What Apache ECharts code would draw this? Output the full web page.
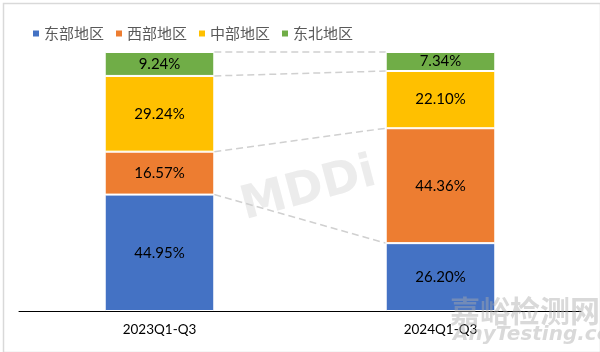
<!DOCTYPE html>
<html><head><meta charset="utf-8">
<script src="https://cdn.jsdelivr.net/npm/echarts@6/dist/echarts.min.js"></script>
<style>html,body{margin:0;padding:0;background:#fff}#c{width:600px;height:352px}</style>
</head><body><div id="c"></div>
<script>
const categories = ['2023Q1-Q3', '2024Q1-Q3'];
const seriesNames = ['东部地区', '西部地区', '中部地区', '东北地区'];
const east = [44.95, 26.20];
const west = [16.57, 44.36];
const central = [29.24, 22.10];
const northeast = [9.24, 7.34];
const colors = ['#4472C4', '#ED7D31', '#FFC000', '#70AD47'];

const allSeries = [east, west, central, northeast];
// cumulative boundaries between stacked segments (for the connecting dashed lines)
const boundaries = [];
for (let k = 1; k <= allSeries.length; k++) {
  const l = allSeries.slice(0, k).reduce((s, a) => s + a[0], 0);
  const r = allSeries.slice(0, k).reduce((s, a) => s + a[1], 0);
  boundaries.push([0, l, r]);
}
const BAR_RATIO = 0.39;

const chart = echarts.init(document.getElementById('c'), null, {renderer: 'canvas'});
const barSeries = seriesNames.map((name, i) => ({
  name, type: 'bar', stack: 'total', barWidth: (BAR_RATIO * 100) + '%',
  data: allSeries[i],
  itemStyle: {color: colors[i], borderColor: '#fff', borderWidth: 1},
  label: {show: true, position: 'inside', formatter: p => p.value.toFixed(2) + '%',
    color: '#000', fontSize: 15, fontFamily: 'Lato, "Open Sans", sans-serif'}
}));

chart.setOption({
  animation: false,
  color: colors,
  legend: {
    left: 26, top: 21, itemWidth: 8, itemHeight: 8, itemGap: 10, icon: 'rect',
    textStyle: {fontSize: 15, color: '#595959', fontFamily: '"Noto Sans CJK SC", sans-serif', padding: [0, 0, 0, -1]},
    data: seriesNames
  },
  grid: {left: 19, right: 19, top: 52, bottom: 41, containLabel: false},
  xAxis: {
    type: 'category', data: categories,
    axisLine: {lineStyle: {color: '#000', width: 1}},
    axisTick: {show: false},
    axisLabel: {color: '#000', fontSize: 13.5, margin: 12, fontFamily: 'Lato, "Open Sans", sans-serif'}
  },
  yAxis: {type: 'value', min: 0, max: 100, show: false, splitLine: {show: false}},
  graphic: [
    {type: 'rect', left: 1, top: 1, shape: {width: 597, height: 349}, style: {fill: 'none', stroke: '#d9d9d9', lineWidth: 1.5}, z: -1},
    {type: 'text', left: 236, top: 150, rotation: 0.26, style: {text: 'MDDi', fill: 'rgba(200,200,200,0.35)', font: 'bold 46px "DejaVu Sans", sans-serif'}, z: 0},
    {type: 'text', left: 450, top: 296, style: {text: '嘉峪检测网', fill: 'rgba(170,170,170,0.45)', font: 'bold 30px "Noto Sans CJK SC", sans-serif'}, z: 100},
    {type: 'text', left: 453, top: 325, style: {text: 'AnyTesting.com', fill: 'rgba(170,170,170,0.45)', font: 'italic bold 20px "DejaVu Sans", sans-serif'}, z: 100}
  ],
  series: [
    ...barSeries,
    {
      type: 'custom', silent: true, z: 1,
      data: boundaries,
      encode: {x: 0, y: 1},
      renderItem: (params, api) => {
        const band = api.size([1, 0])[0];
        const half = band * BAR_RATIO / 2;
        const p1 = api.coord([0, api.value(1)]);
        const p2 = api.coord([1, api.value(2)]);
        return {type: 'line', shape: {x1: p1[0] + half, y1: p1[1], x2: p2[0] - half, y2: p2[1]},
          style: {stroke: '#d0d0d0', lineWidth: 1.5, lineDash: [7, 4]}};
      }
    }
  ]
});
</script></body></html>
